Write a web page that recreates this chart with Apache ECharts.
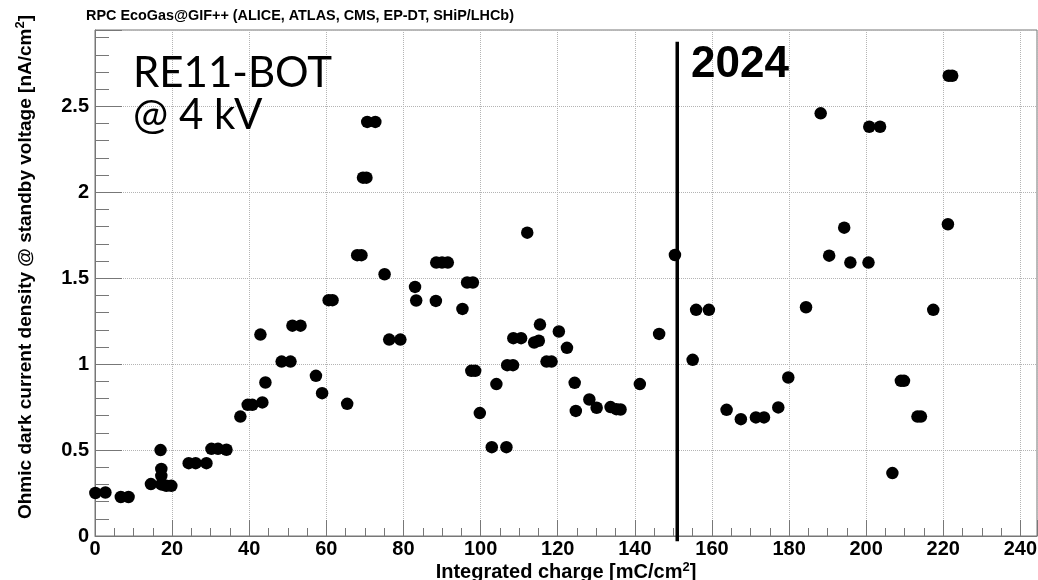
<!DOCTYPE html>
<html>
<head>
<meta charset="utf-8">
<script src="https://cdn.jsdelivr.net/npm/echarts@6/dist/echarts.min.js"></script>
<style>
  html, body { margin: 0; padding: 0; background: #fff; }
  #chart { width: 1038px; height: 580px; }
</style>
</head>
<body>
<div id="chart"></div>
<script>
// Integrated charge [mC/cm^2] for each measurement
const charge = [
  0.1, 2.7, 6.7, 8.7, 14.5, 17.0, 17.2, 17.2, 17.2, 18.5, 19.8,
  24.3, 26.1, 28.9, 30.2, 31.9, 34.1, 37.7, 39.6, 40.8, 43.4, 44.2, 42.9,
  48.4, 50.7, 51.2, 53.3, 57.3, 58.9, 60.6, 61.6, 65.4, 68.0, 69.1,
  69.5, 70.4, 70.6, 72.7, 75.1, 76.3, 79.2, 83.0, 83.3, 88.4,
  88.5, 90.0, 91.5, 95.3, 96.5, 98.0, 97.6, 98.6, 99.8, 102.9, 106.7,
  104.1, 106.9, 108.4, 108.5, 110.5, 112.1, 113.9, 115.1, 115.4, 117.1, 118.4,
  120.3, 122.4, 124.4, 124.7, 128.2, 130.1, 133.7, 135.2, 136.3, 141.3, 146.3,
  150.4, 155.0, 155.9, 159.2, 163.8, 167.5, 171.4, 173.5, 177.2, 179.8,
  184.4, 188.2, 190.4, 194.3, 195.9, 200.6, 200.8, 203.6, 206.8,
  209.0, 209.8, 213.3, 214.2, 217.4, 221.2, 221.4, 222.3
];

// Ohmic dark current density [nA/cm^2] at standby voltage
const current = [
  0.250, 0.253, 0.227, 0.227, 0.302, 0.500, 0.390, 0.350, 0.300, 0.292, 0.292,
  0.424, 0.424, 0.424, 0.507, 0.507, 0.502, 0.695, 0.763, 0.763, 0.777, 0.893, 1.172,
  1.015, 1.015, 1.224, 1.224, 0.932, 0.831, 1.372, 1.372, 0.769, 1.634, 1.634,
  2.085, 2.085, 2.409, 2.409, 1.523, 1.143, 1.143, 1.449, 1.370, 1.368,
  1.591, 1.591, 1.591, 1.321, 1.475, 1.475, 0.961, 0.961, 0.715, 0.517, 0.517,
  0.884, 0.994, 0.994, 1.151, 1.151, 1.765, 1.126, 1.136, 1.230, 1.015, 1.015,
  1.190, 1.095, 0.891, 0.728, 0.794, 0.746, 0.750, 0.738, 0.736, 0.884, 1.176,
  1.635, 1.025, 1.316, 1.316, 0.734, 0.680, 0.690, 0.690, 0.748, 0.922,
  1.331, 2.459, 1.631, 1.794, 1.591, 1.591, 2.381, 2.381, 0.366,
  0.903, 0.903, 0.695, 0.695, 1.316, 1.814, 2.678, 2.678
];

// Start of the 2024 period, in integrated charge
const marker2024 = 151;
const markerSpan = [-0.031, 2.876];

const axisFont = 'Liberation Sans, Arial, Helvetica, sans-serif';
const frameColor = '#777';
const gridColor = '#b4b4b4';

const points = charge.map((c, i) => [c, current[i]]);

const chart = echarts.init(document.getElementById('chart'), null, { renderer: 'canvas' });

chart.setOption({
  animation: false,
  backgroundColor: '#fff',
  title: {
    text: 'RPC EcoGas@GIF++ (ALICE, ATLAS, CMS, EP-DT, SHiP/LHCb)',
    left: 86,
    top: 9,
    padding: 0,
    textStyle: { fontFamily: axisFont, fontWeight: 'bold', fontSize: 14.4, color: '#000' }
  },
  grid: {
    left: 95, top: 30, right: 1, bottom: 44,
    containLabel: false,
    outerBoundsMode: 'none',
    show: true, borderColor: frameColor, borderWidth: 1, backgroundColor: 'transparent'
  },
  xAxis: {
    type: 'value',
    min: 0, max: 244.3, interval: 20,
    name: 'Integrated charge [mC/cm{sup|2}]',
    nameLocation: 'middle',
    nameGap: 25,
    nameMoveOverlap: false,
    nameTextStyle: {
      fontFamily: axisFont, fontWeight: 'bold', fontSize: 20, color: '#000',
      rich: { sup: { fontFamily: axisFont, fontWeight: 'bold', fontSize: 13, verticalAlign: 'top', padding: [0, 0, 10, 0] } }
    },
    axisLine: { show: true, onZero: false, lineStyle: { color: frameColor, width: 1 } },
    axisTick: { show: true, inside: true, length: 16, lineStyle: { color: frameColor } },
    minorTick: { show: true, splitNumber: 4, length: 8, lineStyle: { color: frameColor } },
    splitLine: { show: true, lineStyle: { color: gridColor, type: [1, 1], width: 1 } },
    axisLabel: {
      margin: 3,
      fontFamily: axisFont, fontWeight: 'bold', fontSize: 20, color: '#000',
      showMaxLabel: false,
      formatter: v => (Math.abs(v / 20 - Math.round(v / 20)) < 1e-6 ? String(Math.round(v)) : '')
    }
  },
  yAxis: {
    type: 'value',
    min: 0, max: 2.944, interval: 0.5,
    name: 'Ohmic dark current density @ standby voltage [nA/cm{sup|2}]',
    nameLocation: 'middle',
    nameGap: 58,
    nameMoveOverlap: false,
    nameTextStyle: {
      fontFamily: axisFont, fontWeight: 'bold', fontSize: 19, color: '#000',
      padding: [0, 0, 0, 32],
      rich: { sup: { fontFamily: axisFont, fontWeight: 'bold', fontSize: 13, verticalAlign: 'top', padding: [0, 0, 10, 0] } }
    },
    axisLine: { show: true, onZero: false, lineStyle: { color: frameColor, width: 1 } },
    axisTick: { show: true, inside: true, length: 27, lineStyle: { color: frameColor } },
    minorTick: { show: true, splitNumber: 5, length: 14, lineStyle: { color: frameColor } },
    splitLine: { show: true, lineStyle: { color: gridColor, type: [1, 1], width: 1 } },
    axisLabel: {
      margin: 6,
      fontFamily: axisFont, fontWeight: 'bold', fontSize: 20, color: '#000',
      showMaxLabel: false,
      formatter: v => (Math.abs(v / 0.5 - Math.round(v / 0.5)) < 1e-6 ? String(+v.toFixed(1)) : '')
    }
  },
  graphic: [
    {
      type: 'text', left: 133, top: 52, z: 100, silent: true,
      style: { text: 'RE11-BOT', font: '42px Lato', fill: '#000' }
    },
    {
      type: 'text', left: 133, top: 94, z: 100, silent: true,
      style: { text: '@ 4 kV', font: '42px Lato', fill: '#000' }
    },
    {
      type: 'text', left: 691, top: 43, z: 100, silent: true,
      style: { text: '2024', font: 'bold 44px "Liberation Sans", Arial, sans-serif', fill: '#000' }
    }
  ],
  series: [
    {
      type: 'scatter',
      data: points,
      symbol: 'circle',
      symbolSize: 12.5,
      itemStyle: { color: '#000', opacity: 1 },
      z: 3
    },
    {
      type: 'line',
      data: [[marker2024, markerSpan[0]], [marker2024, markerSpan[1]]],
      showSymbol: false,
      symbol: 'none',
      clip: false,
      lineStyle: { color: '#000', width: 3.5 },
      z: 4
    }
  ]
});
</script>
</body>
</html>
